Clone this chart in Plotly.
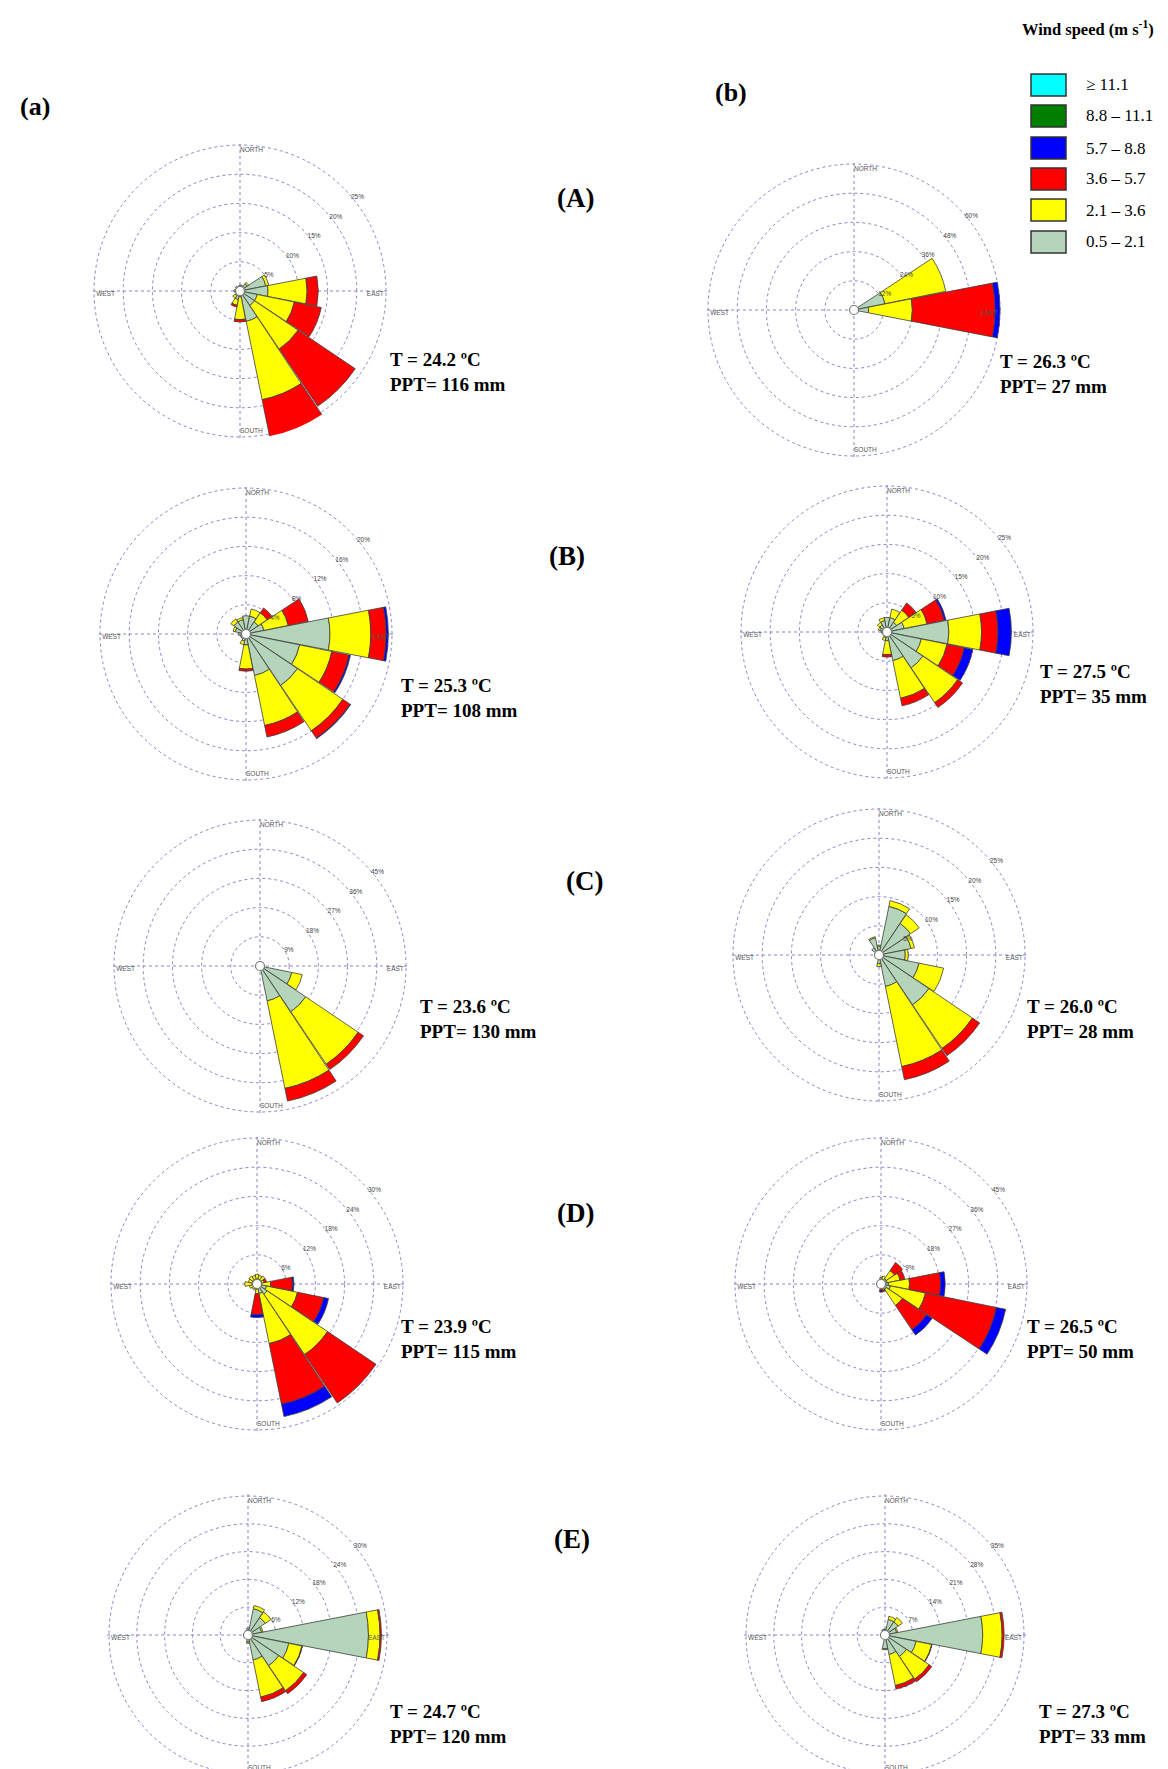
import plotly.graph_objects as go

W, H = 1168, 1769
EDGE = 1.015        # axis range slightly beyond the outer ring so it is drawn

# 16 compass sectors (degrees, clockwise from north)
directions = [0, 22.5, 45, 67.5, 90, 112.5, 135, 157.5,
              180, 202.5, 225, 247.5, 270, 292.5, 315, 337.5]

speed_labels = ["0.5 – 2.1", "2.1 – 3.6", "3.6 – 5.7", "5.7 – 8.8", "8.8 – 11.1", "≥ 11.1"]
speed_colors = ["#b4d5b9", "#ffff00", "#ff0000", "#0000ff", "#007f00", "#00ffff"]

# ---- frequencies (%) per sector for each speed class ----
# (a)(A)
aA_c1 = [1.0, 1.0, 1.5, 4.5, 4.8, 3.0, 3.0, 5.3, 1.0, 1.5, 1.0, 0.8, 1.0, 0.8, 1.0, 0.8]
aA_c2 = [0, 0, 0.3, 0.5, 6.7, 6.5, 9.0, 13.7, 3.9, 1.0, 0.5, 0, 0, 0, 0, 0]
aA_c3 = [0, 0, 0, 0, 1.9, 4.7, 11.8, 6.5, 0.4, 0.3, 0, 0, 0, 0, 0, 0]
aA_c4 = [0, 0, 0, 0, 0, 0, 0, 0, 0, 0, 0, 0, 0, 0, 0, 0]
# (b)(A)
bA_c1 = [0.5, 0.5, 1.0, 13.0, 6.0, 1.5, 0.5, 0.5, 0.5, 0, 0, 0, 0.5, 0, 0, 0.5]
bA_c2 = [0, 0, 0, 25.5, 18.0, 0, 0, 0, 0, 0, 0, 0, 0, 0, 0, 0]
bA_c3 = [0, 0, 0, 0, 34.0, 0, 0, 0, 0, 0, 0, 0, 0, 0, 0, 0]
bA_c4 = [0, 0, 0, 0, 2.0, 0, 0, 0, 0, 0, 0, 0, 0, 0, 0, 0]
# (a)(B)
aB_c1 = [2.5, 2.5, 2.0, 2.5, 11.5, 7.5, 8.5, 5.8, 1.5, 1.0, 0.8, 0.8, 1.0, 1.5, 2.0, 2.0]
aB_c2 = [0, 1.0, 1.5, 3.4, 5.6, 4.5, 7.5, 7.0, 3.3, 0.5, 0, 0, 0, 0.3, 0.5, 0.3]
aB_c3 = [0, 0, 0.8, 2.8, 2.1, 2.4, 1.2, 1.6, 0.3, 0, 0, 0, 0, 0, 0, 0]
aB_c4 = [0, 0, 0, 0, 0.3, 0.2, 0.1, 0, 0, 0, 0, 0, 0, 0, 0, 0]
# (b)(B)
bB_c1 = [2.5, 2.5, 2.0, 3.0, 10.6, 6.0, 7.4, 5.0, 1.5, 1.0, 0.8, 0.8, 1.0, 1.2, 1.5, 2.0]
bB_c2 = [0, 1.5, 2.5, 4.0, 5.6, 4.5, 7.2, 6.6, 2.4, 0.5, 0, 0, 0, 0.3, 0.5, 0.5]
bB_c3 = [0, 0, 1.5, 3.0, 2.8, 3.0, 1.0, 1.3, 0.4, 0, 0, 0, 0, 0, 0, 0]
bB_c4 = [0, 0, 0, 0.3, 2.3, 1.5, 0, 0, 0, 0, 0, 0, 0, 0, 0, 0]
# (a)(C)
aC_c1 = [0.5, 0, 0, 0, 0.5, 10.0, 17.0, 11.0, 1.0, 0, 0, 0, 0, 0, 0, 0]
aC_c2 = [0, 0, 0, 0, 0, 3.3, 19.5, 27.5, 0, 0, 0, 0, 0, 0, 0, 0]
aC_c3 = [0, 0, 0, 0, 0, 0, 2.0, 4.0, 0, 0, 0, 0, 0, 0, 0, 0]
aC_c4 = [0, 0, 0, 0, 0, 0, 0, 0, 0, 0, 0, 0, 0, 0, 0, 0]
# (b)(C)
bC_c1 = [1.5, 8.5, 6.5, 5.6, 4.5, 7.0, 10.3, 5.5, 1.5, 0.5, 0.5, 0.5, 0.5, 0.5, 1.5, 3.0]
bC_c2 = [0.2, 1.0, 1.8, 0.6, 0.5, 4.3, 9.0, 14.0, 0.5, 0, 0, 0, 0, 0, 0, 0.2]
bC_c3 = [0, 0, 0, 0, 0, 0, 1.5, 2.3, 0, 0, 0, 0, 0, 0, 0, 0]
bC_c4 = [0, 0, 0, 0, 0, 0, 0, 0, 0, 0, 0, 0, 0, 0, 0, 0]
# (a)(D)
aD_c1 = [1.0, 1.0, 1.0, 1.0, 1.0, 2.0, 2.5, 2.0, 1.0, 0.8, 0.8, 0.8, 1.0, 1.0, 1.0, 1.0]
aD_c2 = [1.0, 0.8, 1.0, 0.5, 1.8, 6.5, 15.0, 10.5, 1.0, 0.5, 0.5, 0.8, 1.5, 0.8, 1.0, 0.8]
aD_c3 = [0, 0, 0, 0.5, 4.5, 5.5, 12.0, 12.7, 4.3, 0, 0, 0, 0, 0, 0, 0]
aD_c4 = [0, 0, 0, 0, 0.3, 1.0, 0, 2.6, 0.6, 0, 0, 0, 0, 0, 0, 0]
# (b)(D)
bD_c1 = [1.5, 1.5, 2.0, 2.0, 2.3, 3.0, 2.0, 1.5, 1.0, 0.5, 0.5, 0.5, 0.5, 0.5, 1.0, 1.0]
bD_c2 = [0.5, 1.0, 3.0, 4.0, 6.5, 11.0, 6.0, 0.5, 0.5, 0, 0, 0, 0, 0, 0.3, 0.3]
bD_c3 = [0, 0, 3.0, 1.5, 9.6, 22.3, 9.0, 0.5, 0.5, 0, 0, 0, 0, 0, 0, 0]
bD_c4 = [0, 0, 0, 0, 1.4, 2.9, 2.0, 0, 0.5, 0, 0, 0, 0, 0, 0, 0]
# (a)(E)
aE_c1 = [1.5, 5.8, 4.5, 3.0, 26.0, 9.0, 8.0, 5.5, 1.5, 0.5, 0.5, 0.5, 0.5, 0.5, 0.8, 1.0]
aE_c2 = [0, 0.7, 1.5, 0.3, 2.5, 2.9, 6.5, 8.2, 0.3, 0, 0, 0, 0, 0, 0, 0]
aE_c3 = [0, 0, 0, 0, 0.3, 0.1, 0.8, 1.0, 0, 0, 0, 0, 0, 0, 0, 0]
aE_c4 = [0, 0, 0, 0, 0, 0, 0, 0, 0, 0, 0, 0, 0, 0, 0, 0]
# (b)(E)
bE_c1 = [1.5, 4.0, 4.0, 3.0, 24.6, 8.0, 6.5, 5.0, 3.5, 0.5, 0.5, 0.5, 0.5, 0.5, 1.0, 1.5]
bE_c2 = [0, 0.8, 1.3, 0.3, 4.9, 4.0, 6.9, 8.0, 0.2, 0, 0, 0, 0, 0, 0, 0]
bE_c3 = [0, 0, 0, 0, 0.5, 0.1, 0.8, 0.9, 0, 0, 0, 0, 0, 0, 0, 0]
bE_c4 = [0, 0, 0, 0, 0, 0, 0, 0, 0, 0, 0, 0, 0, 0, 0, 0]

# radial rings (%)
aA_ticks = [5, 10, 15, 20, 25]
bA_ticks = [12, 24, 36, 48, 60]
aB_ticks = [4, 8, 12, 16, 20]
bB_ticks = [5, 10, 15, 20, 25]
aC_ticks = [9, 18, 27, 36, 45]
bC_ticks = [5, 10, 15, 20, 25]
aD_ticks = [6, 12, 18, 24, 30]
bD_ticks = [9, 18, 27, 36, 45]
aE_ticks = [6, 12, 18, 24, 30]
bE_ticks = [7, 14, 21, 28, 35]

# climate annotations
aA_text = ["T = 24.2 ºC", "PPT= 116 mm"]
bA_text = ["T = 26.3 ºC", "PPT= 27 mm"]
aB_text = ["T = 25.3 ºC", "PPT= 108 mm"]
bB_text = ["T = 27.5 ºC", "PPT= 35 mm"]
aC_text = ["T = 23.6 ºC", "PPT= 130 mm"]
bC_text = ["T = 26.0 ºC", "PPT= 28 mm"]
aD_text = ["T = 23.9 ºC", "PPT= 115 mm"]
bD_text = ["T = 26.5 ºC", "PPT= 50 mm"]
aE_text = ["T = 24.7 ºC", "PPT= 120 mm"]
bE_text = ["T = 27.3 ºC", "PPT= 33 mm"]

row_labels = ["(A)", "(B)", "(C)", "(D)", "(E)"]
col_labels = ["(a)", "(b)"]

# ---- layout (pixel positions): centre, ring radius, text anchor ----
roses = [
    ([aA_c1, aA_c2, aA_c3, aA_c4], aA_ticks, aA_text, (232, 283), 146, (380, 364)),
    ([bA_c1, bA_c2, bA_c3, bA_c4], bA_ticks, bA_text, (846, 302), 146, (990, 366)),
    ([aB_c1, aB_c2, aB_c3, aB_c4], aB_ticks, aB_text, (238, 626), 146, (391, 690)),
    ([bB_c1, bB_c2, bB_c3, bB_c4], bB_ticks, bB_text, (879, 624), 146, (1030, 676)),
    ([aC_c1, aC_c2, aC_c3, aC_c4], aC_ticks, aC_text, (252, 958), 146, (410, 1011)),
    ([bC_c1, bC_c2, bC_c3, bC_c4], bC_ticks, bC_text, (871, 947), 146, (1017, 1011)),
    ([aD_c1, aD_c2, aD_c3, aD_c4], aD_ticks, aD_text, (249, 1276), 146, (391, 1331)),
    ([bD_c1, bD_c2, bD_c3, bD_c4], bD_ticks, bD_text, (873, 1276), 146, (1017, 1331)),
    ([aE_c1, aE_c2, aE_c3, aE_c4], aE_ticks, aE_text, (240, 1627), 139, (380, 1716)),
    ([bE_c1, bE_c2, bE_c3, bE_c4], bE_ticks, bE_text, (877, 1627), 139, (1029, 1716)),
]
row_label_pos = [(567, 190), (559, 548), (576, 873), (567, 1205), (564, 1531)]
col_label_pos = [(10, 99), (705, 85)]

GRID = "#8585cc"
SERIF = "Liberation Serif"
SANS = "Liberation Sans"

fig = go.Figure()
layout_polars = {}
annotations = []


def clamp(v):
    return min(1.0, max(0.0, v))


for i, (classes, ticks, txt, (cx, cy), rpx, (tx, ty)) in enumerate(roses):
    sp = "polar" if i == 0 else f"polar{i + 1}"
    rmax = ticks[-1]
    rdom = rpx * EDGE
    for k, vals in enumerate(classes):
        th = [d for d, v in zip(directions, vals) if v > 0]
        rr = [v for v in vals if v > 0]
        if not rr:
            continue
        fig.add_trace(go.Barpolar(
            r=rr, theta=th, width=22, subplot=sp, name=speed_labels[k],
            marker=dict(color=speed_colors[k], line=dict(color="#3d3d3d", width=0.8)),
            showlegend=False, hoverinfo="skip"))
    # compass labels
    fig.add_trace(go.Scatterpolar(
        r=[rmax * 0.985] * 4,
        theta=[0, 90, 180, 270], mode="text", subplot=sp,
        text=["NORTH", "EAST", "SOUTH", "WEST"],
        textposition=["bottom right", "bottom left", "top right", "bottom right"],
        textfont=dict(family=SANS, size=6.5, color="#555555"),
        showlegend=False, hoverinfo="skip", cliponaxis=False))
    # centre circle
    fig.add_trace(go.Scatterpolar(
        r=[0], theta=[0], mode="markers", subplot=sp,
        marker=dict(size=9, color="white", line=dict(color="#777777", width=1.2)),
        showlegend=False, hoverinfo="skip"))
    layout_polars[sp] = dict(
        domain=dict(x=[clamp((cx - rdom) / W), clamp((cx + rdom) / W)],
                    y=[clamp(1 - (cy + rdom) / H), clamp(1 - (cy - rdom) / H)]),
        bgcolor="white", barmode="stack", bargap=0, hole=0,
        radialaxis=dict(range=[0, rmax * EDGE], tickvals=ticks,
                        ticktext=[f"{t}%" for t in ticks],
                        showline=False, ticks="", angle=42, tickangle=42,
                        tickfont=dict(family=SANS, size=6.5, color="#444444"),
                        showgrid=True, gridcolor=GRID, griddash="dot", gridwidth=1),
        angularaxis=dict(type="linear", thetaunit="degrees", rotation=90,
                         direction="clockwise", tickvals=[0, 90, 180, 270],
                         showticklabels=False, ticks="", showline=False,
                         showgrid=True, gridcolor=GRID, griddash="dot", gridwidth=1))
    annotations.append(dict(
        x=tx / W, y=1 - ty / H, xref="paper", yref="paper",
        xanchor="left", yanchor="middle", align="left", showarrow=False,
        text=f"<b>{txt[0]}</b><br><b>{txt[1]}</b>",
        font=dict(family=SERIF, size=19, color="black")))

for lab, (x, y) in zip(row_labels, row_label_pos):
    annotations.append(dict(x=x / W, y=1 - y / H, xref="paper", yref="paper",
                            xanchor="center", yanchor="middle", showarrow=False,
                            text=f"<b>{lab}</b>", font=dict(family=SERIF, size=27, color="black")))
for lab, (x, y) in zip(col_labels, col_label_pos):
    annotations.append(dict(x=x / W, y=1 - y / H, xref="paper", yref="paper",
                            xanchor="left", yanchor="middle",
                            showarrow=False, text=f"<b>{lab}</b>",
                            font=dict(family=SERIF, size=26, color="black")))

# legend (custom swatches)
legend_title = "Wind speed (m s<sup>-1</sup>)"
annotations.append(dict(x=1012 / W, y=1 - 20 / H, xref="paper", yref="paper",
                        xanchor="left", yanchor="middle", showarrow=False,
                        text=f"<b>{legend_title}</b>",
                        font=dict(family=SERIF, size=16.5, color="black")))
shapes = []
legend_order = [5, 4, 3, 2, 1, 0]
legend_y = [77, 108, 140, 171, 202, 234]
for k, ly in zip(legend_order, legend_y):
    shapes.append(dict(type="rect", xref="paper", yref="paper",
                       x0=1023 / W, x1=1058 / W, y0=1 - (ly + 11) / H, y1=1 - (ly - 11) / H,
                       fillcolor=speed_colors[k], line=dict(color="#333333", width=1.5)))
    annotations.append(dict(x=1076 / W, y=1 - ly / H, xref="paper", yref="paper",
                            xanchor="left", yanchor="middle", showarrow=False,
                            text=speed_labels[k],
                            font=dict(family=SERIF, size=17, color="black")))

fig.update_layout(width=W, height=H, autosize=False,
                  margin=dict(l=0, r=0, t=0, b=0),
                  paper_bgcolor="white", plot_bgcolor="white",
                  showlegend=False, annotations=annotations, shapes=shapes,
                  **layout_polars)

fig.write_html("out.html")
